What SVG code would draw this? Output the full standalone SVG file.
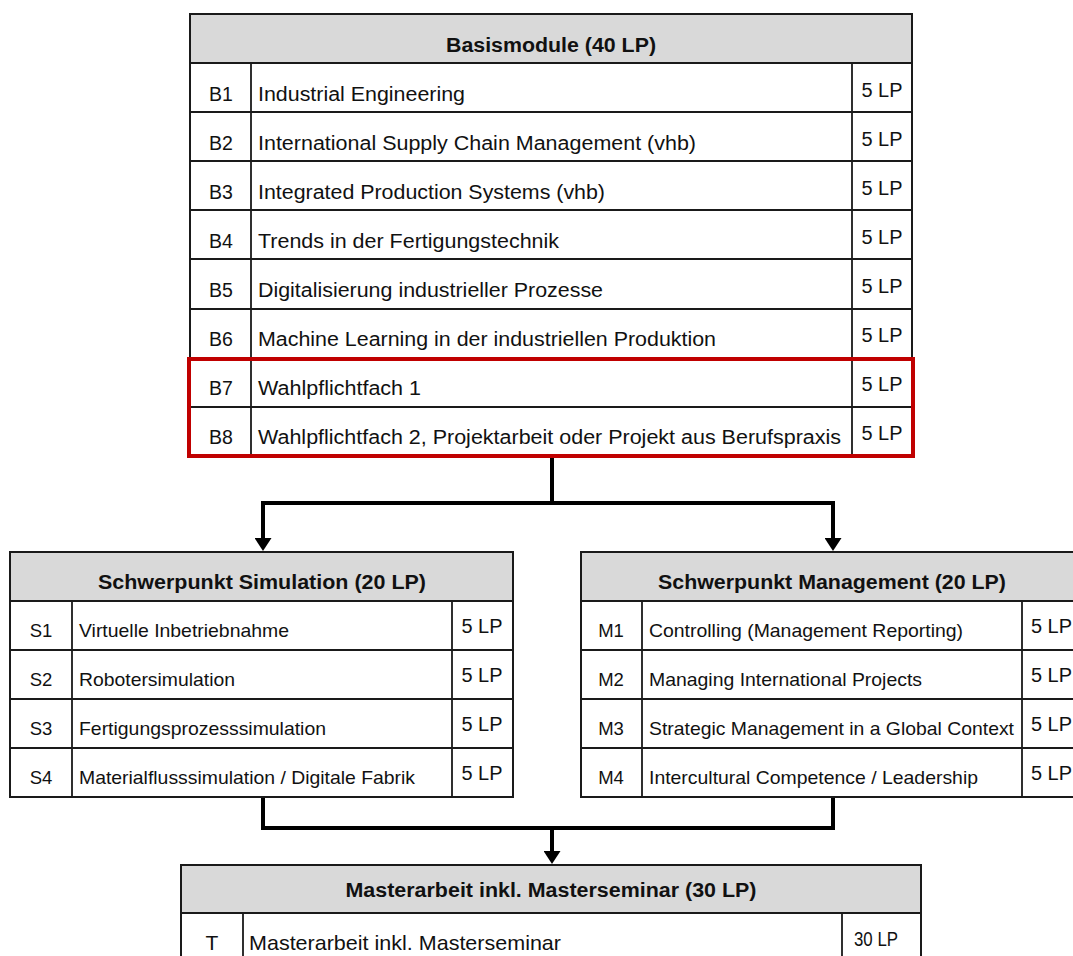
<svg xmlns="http://www.w3.org/2000/svg" width="1073" height="956" viewBox="0 0 1073 956">
<style>
.box{fill:#fff;stroke:#1a1a1a;stroke-width:2}
.hdr{fill:#d9d9d9;stroke:#1a1a1a;stroke-width:2}
.ln{stroke:#1a1a1a;stroke-width:1.8;fill:none}
.t{font-family:"Liberation Sans",Arial,sans-serif;font-size:18.5px;fill:#111}
.big{font-size:19.5px}
.mst{font-size:21px}
.h{font-family:"Liberation Sans",Arial,sans-serif;font-size:20px;font-weight:bold;fill:#111;text-anchor:middle}
.c{text-anchor:middle}
.con{stroke:#000;stroke-width:4;fill:none;stroke-linejoin:miter}
.red{fill:none;stroke:#c00000;stroke-width:4}
</style>
<defs>
<marker id="ah" viewBox="0 0 13 17" refX="0" refY="8.5" markerWidth="13" markerHeight="17" markerUnits="userSpaceOnUse" orient="auto">
<path d="M0,0 L13,8.5 L0,17 Z" fill="#000"/>
</marker>
</defs>

<g id="basismodule">
<rect class="box" x="190" y="14" width="722" height="442"/>
<rect class="hdr" x="190" y="14" width="722" height="49"/>
<path class="ln" d="M190,112H912M190,161H912M190,210H912M190,259H912M190,309H912M190,358H912M190,407H912M251,63V456M852,63V456"/>
<text class="h" x="551" y="52" textLength="210" lengthAdjust="spacingAndGlyphs">Basismodule (40 LP)</text>
<text class="t big c" x="221" y="101">B1</text>
<text class="t big" x="258" y="101" textLength="207" lengthAdjust="spacingAndGlyphs">Industrial Engineering</text>
<text class="t big c" x="882" y="97" textLength="41" lengthAdjust="spacingAndGlyphs">5 LP</text>
<text class="t big c" x="221" y="150">B2</text>
<text class="t big" x="258" y="150" textLength="438" lengthAdjust="spacingAndGlyphs">International Supply Chain Management (vhb)</text>
<text class="t big c" x="882" y="146" textLength="41" lengthAdjust="spacingAndGlyphs">5 LP</text>
<text class="t big c" x="221" y="199">B3</text>
<text class="t big" x="258" y="199" textLength="347" lengthAdjust="spacingAndGlyphs">Integrated Production Systems (vhb)</text>
<text class="t big c" x="882" y="195" textLength="41" lengthAdjust="spacingAndGlyphs">5 LP</text>
<text class="t big c" x="221" y="248">B4</text>
<text class="t big" x="258" y="248" textLength="301" lengthAdjust="spacingAndGlyphs">Trends in der Fertigungstechnik</text>
<text class="t big c" x="882" y="244" textLength="41" lengthAdjust="spacingAndGlyphs">5 LP</text>
<text class="t big c" x="221" y="297">B5</text>
<text class="t big" x="258" y="297" textLength="345" lengthAdjust="spacingAndGlyphs">Digitalisierung industrieller Prozesse</text>
<text class="t big c" x="882" y="293" textLength="41" lengthAdjust="spacingAndGlyphs">5 LP</text>
<text class="t big c" x="221" y="346">B6</text>
<text class="t big" x="258" y="346" textLength="458" lengthAdjust="spacingAndGlyphs">Machine Learning in der industriellen Produktion</text>
<text class="t big c" x="882" y="342" textLength="41" lengthAdjust="spacingAndGlyphs">5 LP</text>
<text class="t big c" x="221" y="395">B7</text>
<text class="t big" x="258" y="395" textLength="163" lengthAdjust="spacingAndGlyphs">Wahlpflichtfach 1</text>
<text class="t big c" x="882" y="391" textLength="41" lengthAdjust="spacingAndGlyphs">5 LP</text>
<text class="t big c" x="221" y="444">B8</text>
<text class="t big" x="258" y="444" textLength="583" lengthAdjust="spacingAndGlyphs">Wahlpflichtfach 2, Projektarbeit oder Projekt aus Berufspraxis</text>
<text class="t big c" x="882" y="440" textLength="41" lengthAdjust="spacingAndGlyphs">5 LP</text>
<rect class="red" x="189" y="359" width="724" height="97"/>
</g>

<g id="simulation">
<rect class="box" x="10" y="552" width="503" height="245"/>
<rect class="hdr" x="10" y="552" width="503" height="49"/>
<path class="ln" d="M10,650H513M10,699H513M10,748H513M72,601V797M452,601V797"/>
<text class="h" x="262" y="589" textLength="328" lengthAdjust="spacingAndGlyphs">Schwerpunkt Simulation (20 LP)</text>
<text class="t c" x="41" y="637">S1</text>
<text class="t" x="79" y="637" textLength="210" lengthAdjust="spacingAndGlyphs">Virtuelle Inbetriebnahme</text>
<text class="t big c" x="482" y="633" textLength="41" lengthAdjust="spacingAndGlyphs">5 LP</text>
<text class="t c" x="41" y="686">S2</text>
<text class="t" x="79" y="686" textLength="156" lengthAdjust="spacingAndGlyphs">Robotersimulation</text>
<text class="t big c" x="482" y="682" textLength="41" lengthAdjust="spacingAndGlyphs">5 LP</text>
<text class="t c" x="41" y="735">S3</text>
<text class="t" x="79" y="735" textLength="247" lengthAdjust="spacingAndGlyphs">Fertigungsprozesssimulation</text>
<text class="t big c" x="482" y="731" textLength="41" lengthAdjust="spacingAndGlyphs">5 LP</text>
<text class="t c" x="41" y="784">S4</text>
<text class="t" x="79" y="784" textLength="336" lengthAdjust="spacingAndGlyphs">Materialflusssimulation / Digitale Fabrik</text>
<text class="t big c" x="482" y="780" textLength="41" lengthAdjust="spacingAndGlyphs">5 LP</text>
</g>

<g id="management">
<rect class="box" x="581" y="552" width="502" height="245"/>
<rect class="hdr" x="581" y="552" width="502" height="49"/>
<path class="ln" d="M581,650H1083M581,699H1083M581,748H1083M642,601V797M1022,601V797"/>
<text class="h" x="832" y="589" textLength="348" lengthAdjust="spacingAndGlyphs">Schwerpunkt Management (20 LP)</text>
<text class="t c" x="611" y="637">M1</text>
<text class="t" x="649" y="637" textLength="314" lengthAdjust="spacingAndGlyphs">Controlling (Management Reporting)</text>
<text class="t big" x="1031" y="633" textLength="41" lengthAdjust="spacingAndGlyphs">5 LP</text>
<text class="t c" x="611" y="686">M2</text>
<text class="t" x="649" y="686" textLength="273" lengthAdjust="spacingAndGlyphs">Managing International Projects</text>
<text class="t big" x="1031" y="682" textLength="41" lengthAdjust="spacingAndGlyphs">5 LP</text>
<text class="t c" x="611" y="735">M3</text>
<text class="t" x="649" y="735" textLength="365" lengthAdjust="spacingAndGlyphs">Strategic Management in a Global Context</text>
<text class="t big" x="1031" y="731" textLength="41" lengthAdjust="spacingAndGlyphs">5 LP</text>
<text class="t c" x="611" y="784">M4</text>
<text class="t" x="649" y="784" textLength="329" lengthAdjust="spacingAndGlyphs">Intercultural Competence / Leadership</text>
<text class="t big" x="1031" y="780" textLength="41" lengthAdjust="spacingAndGlyphs">5 LP</text>
</g>

<g id="masterarbeit">
<rect class="box" x="181" y="865" width="740" height="100"/>
<rect class="hdr" x="181" y="865" width="740" height="48"/>
<path class="ln" d="M243,913V965M842,913V965"/>
<text class="h" x="551" y="897" textLength="411" lengthAdjust="spacingAndGlyphs">Masterarbeit inkl. Masterseminar (30 LP)</text>
<text class="t mst c" x="212" y="950">T</text>
<text class="t mst" x="249" y="950" textLength="312" lengthAdjust="spacingAndGlyphs">Masterarbeit inkl. Masterseminar</text>
<text class="t mst c" x="876" y="946" textLength="44" lengthAdjust="spacingAndGlyphs">30 LP</text>
</g>

<g id="connectors">
<path class="con" d="M552,458V503"/>
<path class="con" d="M552,503H263V538" marker-end="url(#ah)"/>
<path class="con" d="M552,503H833V538" marker-end="url(#ah)"/>
<path class="con" d="M263,798V828H833V798"/>
<path class="con" d="M552,828V851" marker-end="url(#ah)"/>
</g>
</svg>
